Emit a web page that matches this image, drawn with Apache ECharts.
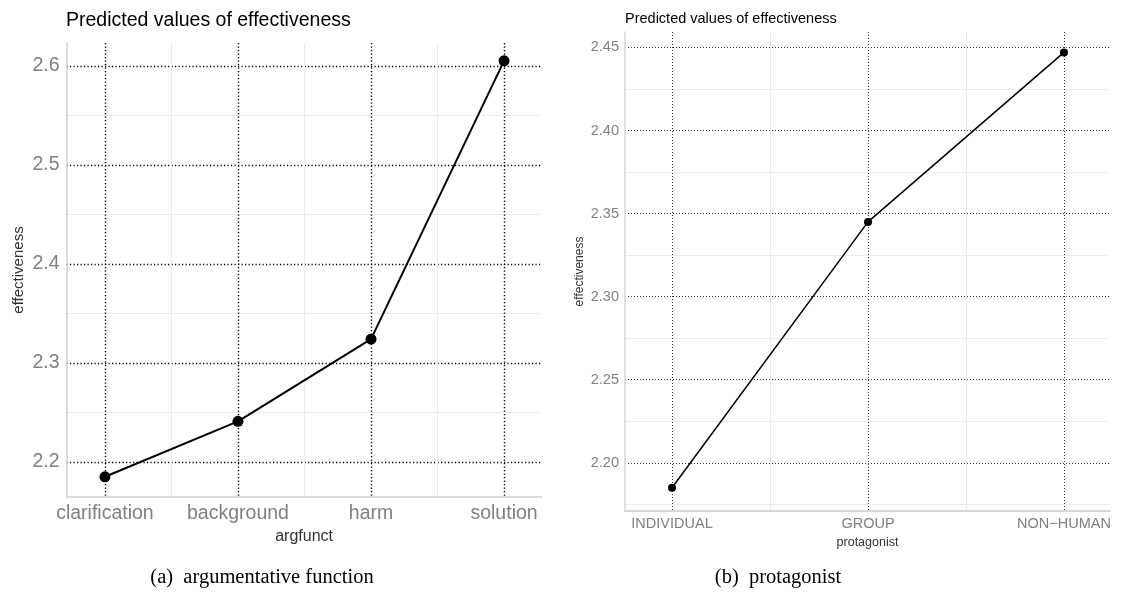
<!DOCTYPE html>
<html>
<head>
<meta charset="utf-8">
<script src="https://cdn.jsdelivr.net/npm/echarts@6/dist/echarts.min.js"></script>
<style>
html,body{margin:0;padding:0;background:#fff;}
#chart{width:1121px;height:596px;}
</style>
</head>
<body>
<div id="chart"></div>
<script>
// ---- data ----
const titleText = 'Predicted values of effectiveness';
const argCategories = ['clarification', 'background', 'harm', 'solution'];
const argValues = [2.185, 2.241, 2.324, 2.605];
const argYTicks = [2.2, 2.3, 2.4, 2.5, 2.6];
const argYMinor = [2.25, 2.35, 2.45, 2.55];
const protCategories = ['INDIVIDUAL', 'GROUP', 'NON\u2212HUMAN'];
const protValues = [2.185, 2.345, 2.447];
const protYTicks = [2.20, 2.25, 2.30, 2.35, 2.40, 2.45];
const protYMinor = [2.175, 2.225, 2.275, 2.325, 2.375, 2.425];
const captionA = '(a)  argumentative function';
const captionB = '(b)  protagonist';

const FONT = 'Liberation Sans, Arial, sans-serif';
const idx = arr => arr.map((_, i) => i);
const mids = arr => arr.slice(1).map((_, i) => i + 0.5);

const chart = echarts.init(document.getElementById('chart'), null, {renderer: 'canvas'});

function dotted(color, w, dash) {
  return {show: true, lineStyle: {color: color, width: w, type: dash}};
}

const option = {
  backgroundColor: '#fff',
  animation: false,
  title: [
    {text: titleText, left: 61, top: 6, textStyle: {fontFamily: FONT, fontSize: 19.5, fontWeight: 'normal', color: '#000'}},
    {text: titleText, left: 620, top: 6, textStyle: {fontFamily: FONT, fontSize: 14.5, fontWeight: 'normal', color: '#000'}}
  ],
  grid: [
    {left: 66.5, right: 579.3, top: 43, bottom: 99, containLabel: false},
    {left: 625, right: 11, top: 32, bottom: 85, containLabel: false}
  ],
  xAxis: [
    { // left main
      type: 'value', gridIndex: 0, min: -0.289, max: 3.283, position: 'bottom',
      name: 'argfunct', nameLocation: 'middle', nameGap: 31,
      nameTextStyle: {fontFamily: FONT, fontSize: 16, color: '#333'},
      axisLine: {show: true, onZero: false, lineStyle: {color: '#d0d0d0', width: 1.5}},
      axisTick: {show: false, customValues: idx(argCategories)},
      axisLabel: {customValues: idx(argCategories), formatter: v => argCategories[Math.round(v)],
        fontFamily: FONT, fontSize: 19.5, color: '#808080', margin: 7},
      splitLine: dotted('#000', 1.4, [1.2, 2.3])
    },
    { // left minor
      type: 'value', gridIndex: 0, min: -0.289, max: 3.283, position: 'top',
      axisLine: {show: false, onZero: false}, axisTick: {show: false, customValues: mids(argCategories)},
      axisLabel: {show: false},
      splitLine: {show: true, lineStyle: {color: '#ebebeb', width: 1}}
    },
    { // right main
      type: 'value', gridIndex: 1, min: -0.24, max: 2.235, position: 'bottom',
      name: 'protagonist', nameLocation: 'middle', nameGap: 24,
      nameTextStyle: {fontFamily: FONT, fontSize: 12.5, color: '#333'},
      axisLine: {show: true, onZero: false, lineStyle: {color: '#d6d6d6', width: 2}},
      axisTick: {show: false, customValues: idx(protCategories)},
      axisLabel: {customValues: idx(protCategories), formatter: v => protCategories[Math.round(v)],
        fontFamily: FONT, fontSize: 14.5, color: '#808080', margin: 5},
      splitLine: dotted('#333', 1, [1, 2])
    },
    { // right minor
      type: 'value', gridIndex: 1, min: -0.24, max: 2.235, position: 'top',
      axisLine: {show: false, onZero: false}, axisTick: {show: false, customValues: mids(protCategories)},
      axisLabel: {show: false},
      splitLine: {show: true, lineStyle: {color: '#ebebeb', width: 1}}
    }
  ],
  yAxis: [
    {
      type: 'value', gridIndex: 0, min: 2.1646, max: 2.623, position: 'left',
      name: 'effectiveness', nameLocation: 'middle', nameGap: 40, nameRotate: 90,
      nameTextStyle: {fontFamily: FONT, fontSize: 15, color: '#333'},
      axisLine: {show: true, onZero: false, lineStyle: {color: '#d0d0d0', width: 1.5}},
      axisTick: {show: false, customValues: argYTicks},
      axisLabel: {customValues: argYTicks, formatter: v => v.toFixed(1),
        fontFamily: FONT, fontSize: 19.5, color: '#808080', margin: 7},
      splitLine: dotted('#000', 1.4, [1.2, 2.3])
    },
    {
      type: 'value', gridIndex: 0, min: 2.1646, max: 2.623, position: 'right',
      axisLine: {show: false, onZero: false}, axisTick: {show: false, customValues: argYMinor},
      axisLabel: {show: false},
      splitLine: {show: true, lineStyle: {color: '#ebebeb', width: 1}}
    },
    {
      type: 'value', gridIndex: 1, min: 2.171, max: 2.4593, position: 'left',
      name: 'effectiveness', nameLocation: 'middle', nameGap: 39, nameRotate: 90,
      nameTextStyle: {fontFamily: FONT, fontSize: 12, color: '#333'},
      axisLine: {show: true, onZero: false, lineStyle: {color: '#d6d6d6', width: 1.5}},
      axisTick: {show: false, customValues: protYTicks},
      axisLabel: {customValues: protYTicks, formatter: v => v.toFixed(2),
        fontFamily: FONT, fontSize: 14.5, color: '#808080', margin: 6},
      splitLine: dotted('#333', 1, [1, 2])
    },
    {
      type: 'value', gridIndex: 1, min: 2.171, max: 2.4593, position: 'right',
      axisLine: {show: false, onZero: false}, axisTick: {show: false, customValues: protYMinor},
      axisLabel: {show: false},
      splitLine: {show: true, lineStyle: {color: '#ebebeb', width: 1}}
    }
  ],
  series: [
    {
      type: 'line', xAxisIndex: 0, yAxisIndex: 0,
      data: argValues.map((v, i) => [i, v]),
      symbol: 'circle', symbolSize: 11,
      itemStyle: {color: '#000'}, lineStyle: {color: '#000', width: 2}
    },
    {
      type: 'line', xAxisIndex: 2, yAxisIndex: 2,
      data: protValues.map((v, i) => [i, v]),
      symbol: 'circle', symbolSize: 8,
      itemStyle: {color: '#000'}, lineStyle: {color: '#000', width: 1.5}
    }
  ],
  graphic: [
    {type: 'text', x: 262, y: 578, style: {text: captionA, font: '20.5px "Liberation Serif", serif', fill: '#000', textAlign: 'center', textVerticalAlign: 'middle'}},
    {type: 'text', x: 778, y: 578, style: {text: captionB, font: '20.5px "Liberation Serif", serif', fill: '#000', textAlign: 'center', textVerticalAlign: 'middle'}}
  ]
};
chart.setOption(option);
</script>
</body>
</html>
